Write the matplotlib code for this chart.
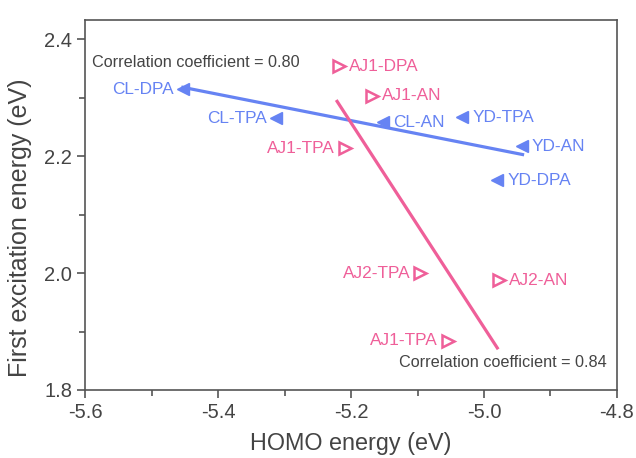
import matplotlib
matplotlib.use("Agg")
import matplotlib.pyplot as plt
from matplotlib.ticker import MultipleLocator

plt.rcParams['font.family'] = ['Liberation Sans', 'DejaVu Sans']

blue_labels = ["CL-DPA", "CL-TPA", "CL-AN", "YD-TPA", "YD-AN", "YD-DPA"]
blue_homo = [-5.453, -5.313, -5.152, -5.033, -4.943, -4.980]
blue_exc = [2.315, 2.265, 2.258, 2.267, 2.217, 2.159]
blue_side = ["left", "left", "right", "right", "right", "right"]

pink_labels = ["AJ1-DPA", "AJ1-AN", "AJ1-TPA", "AJ2-TPA", "AJ2-AN", "AJ1-TPA"]
pink_homo = [-5.218, -5.168, -5.209, -5.096, -4.977, -5.054]
pink_exc = [2.354, 2.304, 2.214, 2.000, 1.988, 1.884]
pink_side = ["right", "right", "left", "left", "right", "left"]

blue_fit_x = [-5.453, -4.942]
blue_fit_y = [2.318, 2.203]
pink_fit_x = [-5.221, -4.980]
pink_fit_y = [2.294, 1.872]

blue_r = "Correlation coefficient = 0.80"
pink_r = "Correlation coefficient = 0.84"

BLUE = "#6683F3"
PINK = "#EF5F99"
GRAY = "#444444"

fig = plt.figure(figsize=(6.36, 4.58), dpi=100)
ax = fig.add_axes([0.134, 0.1485, 0.836, 0.8075])

ax.plot(blue_fit_x, blue_fit_y, color=BLUE, lw=2.3, zorder=2)
ax.plot(pink_fit_x, pink_fit_y, color=PINK, lw=2.3, zorder=2)

ax.plot(blue_homo, blue_exc, ls="none", marker="<", ms=9, color=BLUE, zorder=3)
ax.plot(pink_homo, pink_exc, ls="none", marker=">", ms=8, mfc="white",
        mec=PINK, mew=1.8, color=PINK, zorder=3)

def label(xs, ys, names, sides, color, left_off, right_off):
    for x, y, n, s in zip(xs, ys, names, sides):
        if s == "left":
            ax.annotate(n, (x, y), xytext=(left_off, 0), textcoords="offset pixels",
                        ha="right", va="center", color=color, fontsize=12.4)
        else:
            ax.annotate(n, (x, y), xytext=(right_off, 0), textcoords="offset pixels",
                        ha="left", va="center", color=color, fontsize=12.4)

label(blue_homo, blue_exc, blue_labels, blue_side, BLUE, -9, 10)
label(pink_homo, pink_exc, pink_labels, pink_side, PINK, -10, 10)

ax.text(0.012, 0.885, blue_r, transform=ax.transAxes, ha="left", va="center",
        color=GRAY, fontsize=11.7)
ax.text(0.98, 0.075, pink_r, transform=ax.transAxes, ha="right", va="center",
        color=GRAY, fontsize=11.7)

ax.set_xlim(-5.6, -4.8)
ax.set_ylim(1.8, 2.433)
ax.xaxis.set_minor_locator(MultipleLocator(0.1))
ax.yaxis.set_minor_locator(MultipleLocator(0.1))
ax.set_xticks([-5.6, -5.4, -5.2, -5.0, -4.8])
ax.set_xticklabels(["-5.6", "-5.4", "-5.2", "-5.0", "-4.8"])
ax.set_yticks([1.8, 2.0, 2.2, 2.4])
ax.set_yticklabels(["1.8", "2.0", "2.2", "2.4"])

for sp in ax.spines.values():
    sp.set_color("#555555")
    sp.set_linewidth(1.2)
ax.tick_params(which="major", direction="out", length=6, width=1.2,
               colors="#555555", labelcolor=GRAY, labelsize=14.5)
ax.tick_params(which="minor", direction="out", length=4, width=1.2, colors="#555555")
ax.tick_params(top=False, right=False, which="both")

ax.set_xlabel("HOMO energy (eV)", fontsize=16.8, color=GRAY, labelpad=7)
ax.set_ylabel("First excitation energy (eV)", fontsize=18, color=GRAY)
ax.yaxis.set_label_coords(-0.10, 0.44)

fig.savefig("out.png", dpi=100)
